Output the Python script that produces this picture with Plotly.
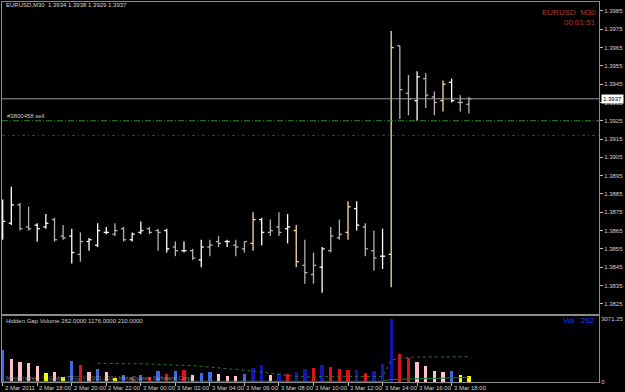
import plotly.graph_objects as go

# ---------------- data ----------------
bar_index = list(range(55))
opens = [1.3867, 1.3869, 1.3879, 1.3867, 1.3868, 1.3867, 1.3871, 1.3862, 1.3862, 1.3852,
         1.3859, 1.3857, 1.3864, 1.3863, 1.3866, 1.3860, 1.3864, 1.3866, 1.3865, 1.3865,
         1.3856, 1.3854, 1.3854, 1.3849, 1.3856, 1.3859, 1.3859, 1.3857, 1.3855, 1.3858,
         1.3871, 1.3864, 1.3867, 1.3866, 1.3865, 1.3846, 1.3841, 1.3845, 1.3854, 1.3861,
         1.3864, 1.3877, 1.3867, 1.3854, 1.3851, 1.3852, 1.3966, 1.3940, 1.3936, 1.3948,
         1.3938, 1.3936, 1.3946, 1.3935, 1.3934]
highs = [1.3882, 1.3889, 1.3880, 1.3878, 1.3869, 1.3874, 1.3872, 1.3868, 1.3866, 1.3864,
         1.3861, 1.3869, 1.3867, 1.3869, 1.3867, 1.3864, 1.3870, 1.3867, 1.3866, 1.3866,
         1.3859, 1.3859, 1.3855, 1.3860, 1.3860, 1.3862, 1.3860, 1.3860, 1.3859, 1.3875,
         1.3872, 1.3871, 1.3875, 1.3874, 1.3868, 1.3860, 1.3853, 1.3856, 1.3867, 1.3871,
         1.3881, 1.3881, 1.3869, 1.3865, 1.3866, 1.3974, 1.3966, 1.3950, 1.3952, 1.3951,
         1.3941, 1.3947, 1.3948, 1.3939, 1.3938]
lows = [1.3860, 1.3868, 1.3865, 1.3865, 1.3859, 1.3866, 1.3859, 1.3860, 1.3847, 1.3848,
        1.3854, 1.3856, 1.3863, 1.3862, 1.3859, 1.3859, 1.3863, 1.3863, 1.3854, 1.3853,
        1.3851, 1.3853, 1.3849, 1.3845, 1.3851, 1.3856, 1.3856, 1.3851, 1.3853, 1.3854,
        1.3857, 1.3862, 1.3862, 1.3858, 1.3845, 1.3836, 1.3836, 1.3831, 1.3853, 1.3860,
        1.3860, 1.3865, 1.3851, 1.3843, 1.3844, 1.3834, 1.3926, 1.3928, 1.3925, 1.3932,
        1.3928, 1.3930, 1.3935, 1.3930, 1.3929]
closes = [1.3870, 1.3879, 1.3866, 1.3866, 1.3866, 1.3869, 1.3860, 1.3861, 1.3853, 1.3859,
          1.3860, 1.3865, 1.3864, 1.3865, 1.3860, 1.3863, 1.3865, 1.3864, 1.3864, 1.3855,
          1.3854, 1.3854, 1.3850, 1.3856, 1.3857, 1.3858, 1.3859, 1.3856, 1.3859, 1.3871,
          1.3864, 1.3865, 1.3864, 1.3867, 1.3848, 1.3842, 1.3846, 1.3855, 1.3862, 1.3863,
          1.3878, 1.3868, 1.3855, 1.3850, 1.3851, 1.3965, 1.3942, 1.3937, 1.3949, 1.3939,
          1.3935, 1.3945, 1.3936, 1.3935, 1.3937]
# bar class as drawn in the chart: w = white, g = grey, t = tan
bar_class = ['w', 'w', 'g', 'g', 'w', 'w', 'g', 'g', 'w', 'g',
             'w', 'w', 'w', 'g', 'g', 'w', 'w', 'g', 'g', 'w',
             'g', 'w', 'g', 'w', 'g', 'g', 'w', 'g', 'g', 't',
             'w', 'g', 'g', 'w', 't', 'g', 'g', 'w', 'g', 'g',
             't', 'w', 'g', 'g', 'w', 't', 'g', 'g', 'w', 'g',
             'g', 't', 'w', 'g', 'g']

volumes = [1488, 1055, 944, 897, 744, 405, 479, 246, 977, 791,
           451, 591, 465, 172, 326, 246, 326, 246, 525, 372,
           525, 544, 312, 432, 479, 372, 279, 279, 372, 637,
           791, 326, 405, 372, 479, 605, 637, 791, 684, 605,
           558, 558, 405, 512, 837, 2925, 1302, 1130, 916, 758,
           512, 479, 512, 326, 262]
# volume class: b = blue, n = navy, p = pink, r = red, y = yellow
vol_class = ['b', 'p', 'p', 'p', 'p', 'y', 'p', 'y', 'b', 'r',
             'p', 'b', 'p', 'y', 'b', 'r', 'b', 'r', 'b', 'r',
             'b', 'r', 'p', 'b', 'b', 'p', 'p', 'p', 'b', 'n',
             'n', 'p', 'n', 'r', 'n', 'n', 'r', 'n', 'r', 'r',
             'r', 'n', 'r', 'n', 'n', 'n', 'r', 'r', 'p', 'p',
             'p', 'p', 'b', 'y', 'y']
vol_avg = [None] * 11 + [870, 870, 870, 870, 870, 860, 840, 820, 810, 800,
                         790, 760, 730, 700, 660, 620, 590, 550, 510, 450,
                         390, 330, 300, 260, 230, 230, 250, 250, 250, 250,
                         250, 250, 250, 250, 1020, 1100, 1150, 1160, 1162, 1165,
                         1168, 1170, 1172, 1176]
vol_low = [30] * 45 + [120, 130, 140, 150, 160, 170, 180, 190, 200, 210]

time_tick_index = [0, 4, 8, 12, 16, 20, 24, 28, 32, 36, 40, 44, 48, 52]
time_tick_text = ["2 Mar 2011", "2 Mar 18:00", "2 Mar 20:00", "2 Mar 22:00",
                  "3 Mar 00:00", "3 Mar 02:00", "3 Mar 04:00", "3 Mar 06:00",
                  "3 Mar 08:00", "3 Mar 10:00", "3 Mar 12:00", "3 Mar 14:00",
                  "3 Mar 16:00", "3 Mar 18:00"]
price_ticks = [1.3825, 1.3835, 1.3845, 1.3855, 1.3865, 1.3875, 1.3885, 1.3895,
               1.3905, 1.3915, 1.3925, 1.3935, 1.3945, 1.3955, 1.3965, 1.3975, 1.3985]
bid_price = 1.3937
order_price = 1.3925
stop_price = 1.3917
vol_scale_max = 3071.25

# ---------------- figure ----------------
FONT = "Liberation Sans"
bar_colors = {'w': '#FFFFFF', 'g': '#B4B4B4', 't': '#F5DCAA'}
vol_colors = {'b': '#4169E1', 'n': '#1414B0', 'p': '#FFC0CB', 'r': '#E0101E', 'y': '#FFFF00'}
TW = 0.3

fig = go.Figure()

for cls, col in bar_colors.items():
    xs, ys = [], []
    for i in bar_index:
        if bar_class[i] != cls:
            continue
        xs += [i, i, None, i - TW, i, None, i, i + TW, None]
        ys += [lows[i], highs[i], None, opens[i], opens[i], None, closes[i], closes[i], None]
    fig.add_trace(go.Scatter(x=xs, y=ys, mode='lines', line=dict(color=col, width=1.3),
                             xaxis='x', yaxis='y', hoverinfo='skip', showlegend=False))

fig.add_trace(go.Bar(x=bar_index, y=volumes, width=0.38,
                     marker=dict(color=[vol_colors[c] for c in vol_class], line=dict(width=0)),
                     xaxis='x2', yaxis='y2', showlegend=False))
fig.add_trace(go.Scatter(x=bar_index, y=vol_avg, mode='lines',
                         line=dict(color='#1E7A3A', width=1, dash='dot'),
                         xaxis='x2', yaxis='y2', showlegend=False))
fig.add_trace(go.Scatter(x=bar_index, y=vol_low, mode='lines',
                         line=dict(color='#1E7A3A', width=1),
                         xaxis='x2', yaxis='y2', showlegend=False))

xr = [-0.08, 69.07]
grey = '#8C8C8C'
fig.update_layout(
    width=625, height=392,
    margin=dict(l=1, r=21, t=2, b=10),
    paper_bgcolor='#000000', plot_bgcolor='#000000',
    font=dict(family=FONT, size=6, color='#D0D0D0'),
    showlegend=False,
    bargap=0,
    xaxis=dict(domain=[0, 1], range=xr, anchor='y', showgrid=False, zeroline=False,
               showticklabels=False, showline=True, linecolor=grey, linewidth=1, mirror=True),
    yaxis=dict(domain=[0.1789, 1], range=[1.38194, 1.39899], side='right', showgrid=False,
               zeroline=False, tickvals=price_ticks, tickformat='.4f', ticks='outside',
               ticklen=3, tickcolor='#C0C0C0', tickfont=dict(size=6, color='#D0D0D0'),
               showline=True, linecolor=grey, linewidth=1, mirror=True),
    xaxis2=dict(domain=[0, 1], range=xr, anchor='y2', showgrid=False, zeroline=False,
                tickvals=time_tick_index, ticks='outside', ticklen=3, tickcolor='#C0C0C0',
                showticklabels=False, showline=True, linecolor=grey, linewidth=1, mirror=True),
    yaxis2=dict(domain=[0, 0.1737], range=[0, vol_scale_max], side='right', showgrid=False,
                zeroline=False, tickvals=[vol_scale_max * 0.95, 0], ticktext=['3071.25', '0'],
                ticks='', tickfont=dict(size=6, color='#D0D0D0'),
                showline=True, linecolor=grey, linewidth=1, mirror=True),
)

# horizontal level lines
fig.add_shape(type='line', xref='x domain', yref='y', x0=0, x1=1, y0=bid_price, y1=bid_price,
              line=dict(color='#9A9A9A', width=1))
fig.add_shape(type='line', xref='x domain', yref='y', x0=0, x1=1, y0=order_price, y1=order_price,
              line=dict(color='#2E8B2E', width=1, dash='6px,2px,1px,2px'))
fig.add_shape(type='line', xref='x domain', yref='y', x0=0, x1=1, y0=stop_price, y1=stop_price,
              line=dict(color='#A01818', width=1, dash='3px,3px,1px,3px'))
# panel separator
fig.add_shape(type='rect', xref='paper', yref='paper', x0=0, x1=1, y0=0.1737, y1=0.1789,
              fillcolor=grey, line=dict(width=0))

anns = []
for idx, txt in zip(time_tick_index, time_tick_text):
    anns.append(dict(x=idx, y=-0.016, xref='x2', yref='paper', text=txt, showarrow=False,
                     xanchor='left', yanchor='middle', xshift=0,
                     font=dict(size=6, color='#D0D0D0', family=FONT)))
anns += [
    dict(x=0.003, y=0.992, xref='paper', yref='paper', xanchor='left', yanchor='middle',
         text='EURUSD,M30  1.3934 1.3938 1.3929 1.3937', showarrow=False,
         font=dict(size=6, color='#D8D8D8', family=FONT)),
    dict(x=0.998, y=0.973, xref='paper', yref='paper', xanchor='right', yanchor='middle',
         text='EURUSD  M30', showarrow=False, font=dict(size=8, color='#B03A30', family=FONT)),
    dict(x=0.998, y=0.947, xref='paper', yref='paper', xanchor='right', yanchor='middle',
         text='00:01:51', showarrow=False, font=dict(size=8, color='#B03A30', family=FONT)),
    dict(x=0.005, y=order_price, xref='paper', yref='y', xanchor='left', yanchor='bottom',
         yshift=0, text='#3800458 sell', showarrow=False,
         font=dict(size=6, color='#C8C8C8', family=FONT)),
    dict(x=1.0, y=bid_price, xref='paper', yref='y', xanchor='left', yanchor='middle',
         xshift=2, text='1.3937', showarrow=False, bgcolor='#FFFFFF',
         font=dict(size=6, color='#000000', family=FONT)),
    dict(x=0.003, y=vol_scale_max * 0.93, xref='paper', yref='y2', xanchor='left', yanchor='middle',
         text='Hidden Gap Volume 262.0000 1176.0000 210.0000', showarrow=False,
         font=dict(size=6, color='#D0D0D0', family=FONT)),
    dict(x=0.996, y=vol_scale_max * 0.93, xref='paper', yref='y2', xanchor='right', yanchor='middle',
         text='Vol   262', showarrow=False, font=dict(size=8, color='#1E3CFF', family=FONT)),
    dict(x=0.004, y=vol_scale_max * 0.06, xref='paper', yref='y2', xanchor='left', yanchor='middle',
         text='MetaTrader - © Global TFG, © 2001-2011 MetaQuotes Software Corp.', showarrow=False,
         font=dict(size=6, color='rgba(170,170,170,0.75)', family=FONT)),
]
fig.update_layout(annotations=anns)

fig.write_html("out.html")
